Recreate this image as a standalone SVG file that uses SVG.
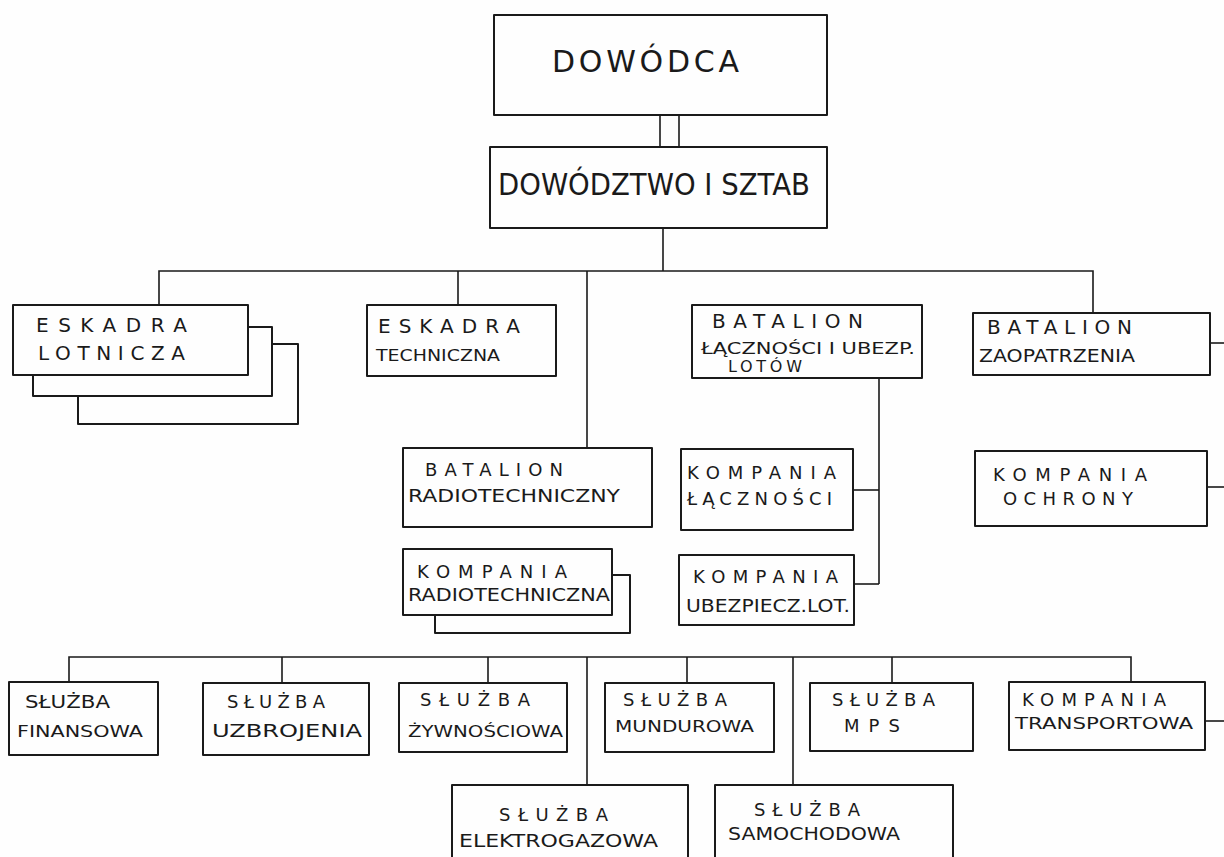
<svg xmlns="http://www.w3.org/2000/svg" width="1224" height="857" viewBox="0 0 1224 857">
<style>
.bx{fill:none;stroke:#1a1a1a;stroke-width:2;stroke-linejoin:round}
.ln{fill:none;stroke:#1a1a1a;stroke-width:1.6}
text{font-family:"DejaVu Sans","Liberation Sans",sans-serif;fill:#1a1a1a}
.big{font-size:30px}
.t1{font-size:20px}
.t2{font-size:18px}
.t3{font-size:16px}
</style>
<rect x="0" y="0" width="1224" height="857" fill="#fefefe"/>
<g id="connectors">
<line class="ln" x1="660" y1="115" x2="660" y2="147"/>
<line class="ln" x1="679" y1="115" x2="679" y2="147"/>
<line class="ln" x1="663" y1="228" x2="663" y2="271"/>
<polyline class="ln" points="159,305 159,271 1093,271 1093,313"/>
<line class="ln" x1="458" y1="271" x2="458" y2="305"/>
<line class="ln" x1="587" y1="271" x2="587" y2="448"/>
<line class="ln" x1="1210" y1="343" x2="1224" y2="343"/>
<line class="ln" x1="1207" y1="487" x2="1224" y2="487"/>
<line class="ln" x1="1205" y1="721" x2="1224" y2="721"/>
<line class="ln" x1="879" y1="378" x2="879" y2="584"/>
<line class="ln" x1="853" y1="490" x2="879" y2="490"/>
<line class="ln" x1="854" y1="584" x2="879" y2="584"/>
<polyline class="ln" points="69,682 69,657 1131,657 1131,682"/>
<line class="ln" x1="282" y1="657" x2="282" y2="683"/>
<line class="ln" x1="488" y1="657" x2="488" y2="683"/>
<line class="ln" x1="587" y1="657" x2="587" y2="785"/>
<line class="ln" x1="687" y1="657" x2="687" y2="683"/>
<line class="ln" x1="793" y1="657" x2="793" y2="785"/>
<line class="ln" x1="892" y1="657" x2="892" y2="683"/>
</g>
<g id="dowodca">
<rect class="bx" x="494" y="15" width="333" height="100"/>
<text class="big" x="552" y="72" textLength="187" lengthAdjust="spacing">DOWÓDCA</text>
</g>
<g id="dowodztwo">
<rect class="bx" x="490" y="147" width="337" height="81"/>
<text class="big" x="498" y="195" textLength="312" lengthAdjust="spacingAndGlyphs">DOWÓDZTWO I SZTAB</text>
</g>
<g id="eskadra-lotnicza">
<polyline class="bx" points="272,344 298,344 298,424 78,424 78,396"/>
<polyline class="bx" points="248,327 272,327 272,396 33,396 33,375"/>
<rect class="bx" x="13" y="305" width="235" height="70"/>
<text class="t1" x="36" y="332" textLength="151" lengthAdjust="spacing">ESKADRA</text>
<text class="t1" x="38" y="360" textLength="147" lengthAdjust="spacing">LOTNICZA</text>
</g>
<g id="eskadra-techniczna">
<rect class="bx" x="367" y="305" width="189" height="71"/>
<text class="t1" x="378" y="333" textLength="142" lengthAdjust="spacing">ESKADRA</text>
<text class="t3" x="376" y="361" textLength="124" lengthAdjust="spacingAndGlyphs">TECHNICZNA</text>
</g>
<g id="batalion-lacznosci">
<rect class="bx" x="692" y="305" width="230" height="73"/>
<text class="t1" x="712" y="328" textLength="151" lengthAdjust="spacing">BATALION</text>
<text class="t3" x="701" y="354" textLength="214" lengthAdjust="spacingAndGlyphs">ŁĄCZNOŚCI I UBEZP.</text>
<text class="t3" x="728" y="372" textLength="74" lengthAdjust="spacing">LOTÓW</text>
</g>
<g id="batalion-zaopatrzenia">
<rect class="bx" x="973" y="313" width="237" height="62"/>
<text class="t1" x="987" y="334" textLength="145" lengthAdjust="spacing">BATALION</text>
<text class="t2" x="979" y="362" textLength="156" lengthAdjust="spacingAndGlyphs">ZAOPATRZENIA</text>
</g>
<g id="batalion-radiotechniczny">
<rect class="bx" x="403" y="448" width="249" height="79"/>
<text class="t2" x="425" y="476" textLength="138" lengthAdjust="spacing">BATALION</text>
<text class="t2" x="408" y="502" textLength="212" lengthAdjust="spacingAndGlyphs">RADIOTECHNICZNY</text>
</g>
<g id="kompania-radiotechniczna">
<polyline class="bx" points="612,575 630,575 630,633 435,633 435,615"/>
<rect class="bx" x="403" y="549" width="209" height="66"/>
<text class="t2" x="417" y="578" textLength="150" lengthAdjust="spacing">KOMPANIA</text>
<text class="t2" x="408" y="601" textLength="202" lengthAdjust="spacingAndGlyphs">RADIOTECHNICZNA</text>
</g>
<g id="kompania-lacznosci">
<rect class="bx" x="681" y="449" width="172" height="81"/>
<text class="t2" x="687" y="479" textLength="149" lengthAdjust="spacing">KOMPANIA</text>
<text class="t2" x="687" y="505" textLength="145" lengthAdjust="spacing">ŁĄCZNOŚCI</text>
</g>
<g id="kompania-ubezpiecz">
<rect class="bx" x="679" y="555" width="175" height="70"/>
<text class="t2" x="693" y="583" textLength="145" lengthAdjust="spacing">KOMPANIA</text>
<text class="t2" x="686" y="612" textLength="164" lengthAdjust="spacingAndGlyphs">UBEZPIECZ.LOT.</text>
</g>
<g id="kompania-ochrony">
<rect class="bx" x="975" y="451" width="232" height="75"/>
<text class="t2" x="993" y="481" textLength="154" lengthAdjust="spacing">KOMPANIA</text>
<text class="t2" x="1003" y="505" textLength="130" lengthAdjust="spacing">OCHRONY</text>
</g>
<g id="sluzba-finansowa">
<rect class="bx" x="9" y="682" width="149" height="73"/>
<text class="t2" x="25" y="708" textLength="85" lengthAdjust="spacingAndGlyphs">SŁUŻBA</text>
<text class="t3" x="17" y="737" textLength="126" lengthAdjust="spacingAndGlyphs">FINANSOWA</text>
</g>
<g id="sluzba-uzbrojenia">
<rect class="bx" x="203" y="683" width="166" height="72"/>
<text class="t2" x="227" y="708" textLength="98" lengthAdjust="spacing">SŁUŻBA</text>
<text class="t2" x="212" y="737" textLength="150" lengthAdjust="spacingAndGlyphs">UZBROJENIA</text>
</g>
<g id="sluzba-zywnosciowa">
<rect class="bx" x="399" y="683" width="168" height="69"/>
<text class="t2" x="420" y="706" textLength="110" lengthAdjust="spacing">SŁUŻBA</text>
<text class="t3" x="408" y="737" textLength="155" lengthAdjust="spacingAndGlyphs">ŻYWNOŚCIOWA</text>
</g>
<g id="sluzba-mundurowa">
<rect class="bx" x="605" y="683" width="169" height="69"/>
<text class="t2" x="623" y="706" textLength="104" lengthAdjust="spacing">SŁUŻBA</text>
<text class="t3" x="615" y="732" textLength="139" lengthAdjust="spacingAndGlyphs">MUNDUROWA</text>
</g>
<g id="sluzba-mps">
<rect class="bx" x="810" y="683" width="163" height="68"/>
<text class="t2" x="832" y="706" textLength="103" lengthAdjust="spacing">SŁUŻBA</text>
<text class="t2" x="844" y="732" textLength="56" lengthAdjust="spacing">MPS</text>
</g>
<g id="kompania-transportowa">
<rect class="bx" x="1009" y="682" width="196" height="68"/>
<text class="t2" x="1022" y="706" textLength="144" lengthAdjust="spacing">KOMPANIA</text>
<text class="t3" x="1015" y="729" textLength="178" lengthAdjust="spacingAndGlyphs">TRANSPORTOWA</text>
</g>
<g id="sluzba-elektrogazowa">
<polyline class="bx" points="452,860 452,785 688,785 688,860"/>
<text class="t2" x="499" y="821" textLength="109" lengthAdjust="spacing">SŁUŻBA</text>
<text class="t2" x="459" y="847" textLength="199" lengthAdjust="spacingAndGlyphs">ELEKTROGAZOWA</text>
</g>
<g id="sluzba-samochodowa">
<polyline class="bx" points="715,860 715,785 953,785 953,860"/>
<text class="t2" x="754" y="816" textLength="106" lengthAdjust="spacing">SŁUŻBA</text>
<text class="t2" x="728" y="840" textLength="172" lengthAdjust="spacingAndGlyphs">SAMOCHODOWA</text>
</g>
</svg>
